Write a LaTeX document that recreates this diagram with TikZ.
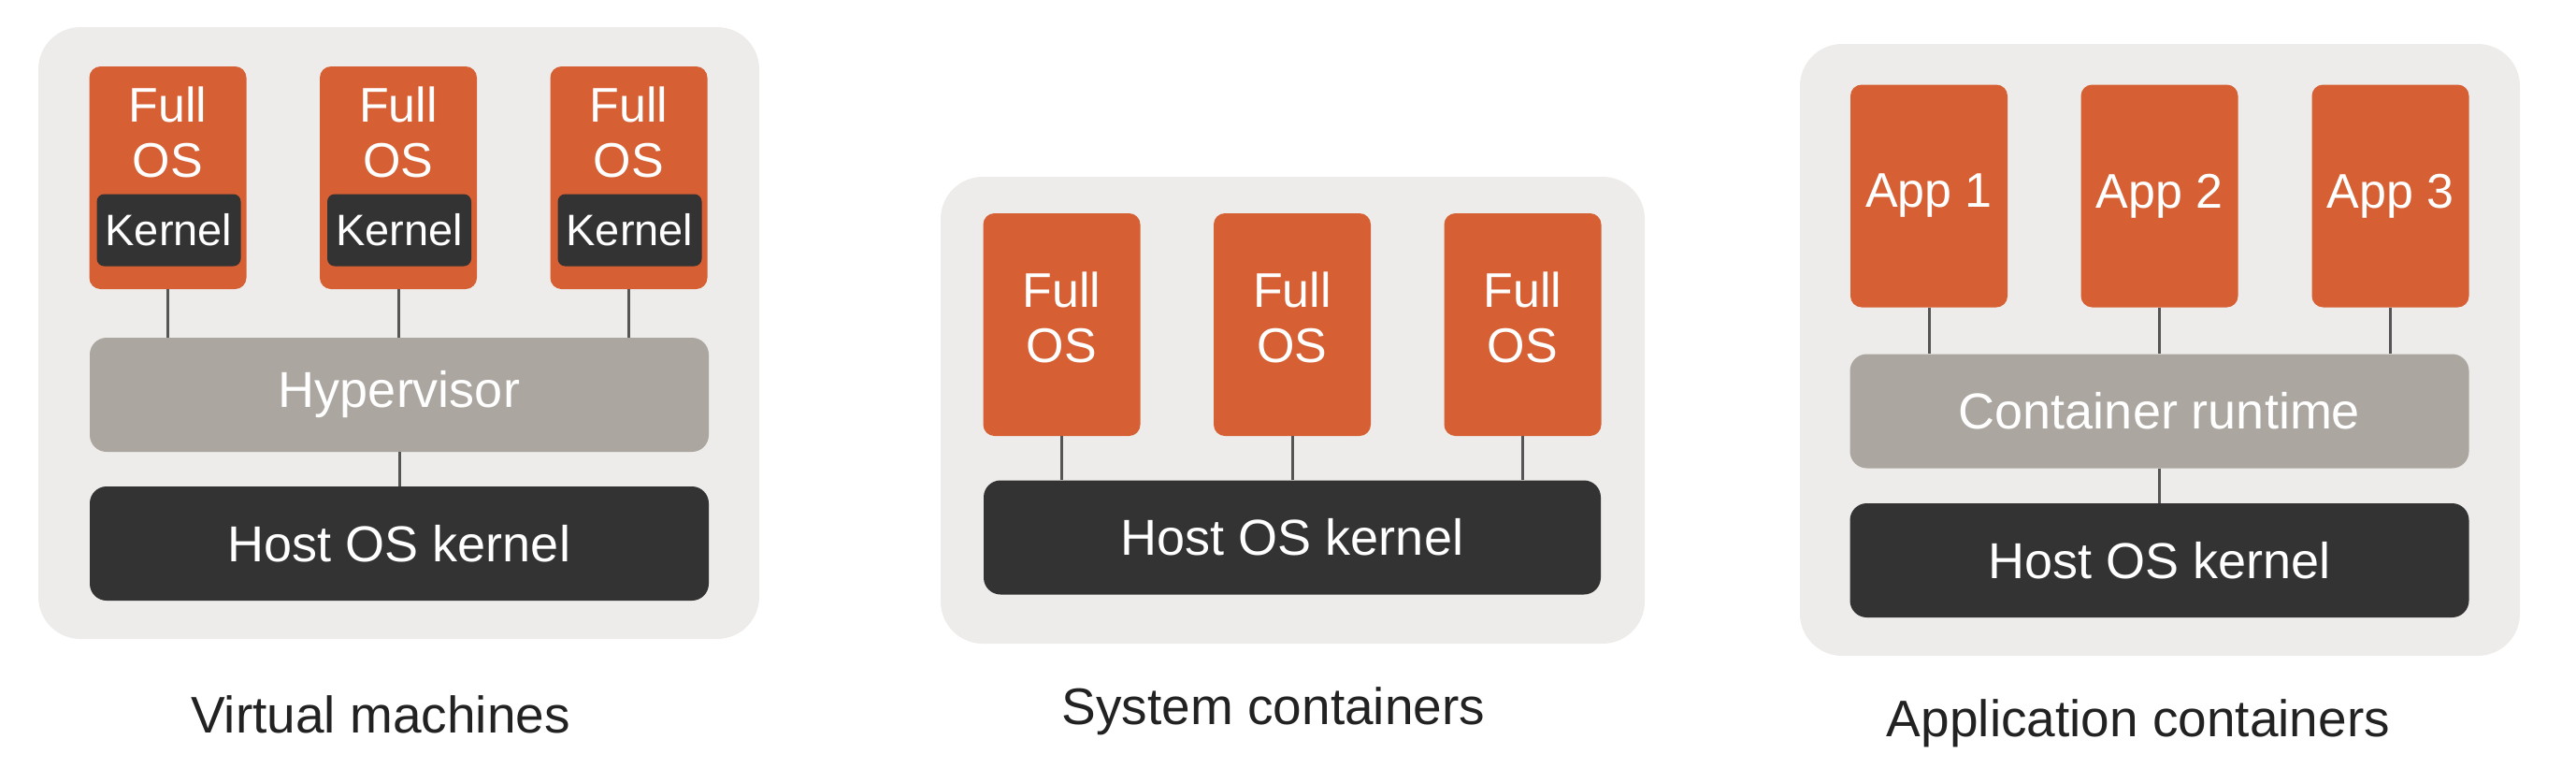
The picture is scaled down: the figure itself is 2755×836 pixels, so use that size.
\documentclass[tikz,border=0pt]{standalone}
\usepackage{fontspec}
\setmainfont{Liberation Sans}
\definecolor{bgc}{HTML}{EDECEA}
\definecolor{orc}{HTML}{D65F33}
\definecolor{grc}{HTML}{ABA7A0}
\definecolor{dkc}{HTML}{333333}
\definecolor{lnc}{HTML}{555555}
\definecolor{capc}{HTML}{222222}
\tikzset{
  panel/.style={fill=bgc, rounded corners=45pt},
  orbox/.style={fill=orc, rounded corners=12pt, inner sep=0pt, minimum width=168pt, minimum height=238pt},
  kbox/.style={fill=dkc, rounded corners=8pt, inner sep=0pt, minimum width=154pt, minimum height=77pt, text=white, font=\fontsize{47}{52}\selectfont},
  wtext/.style={text=white, align=center, inner sep=0pt, font=\fontsize{52}{59}\selectfont},
  layer/.style={rounded corners=18pt, inner sep=0pt, minimum width=662pt, minimum height=122pt, text=white, font=\fontsize{54}{60}\selectfont},
  graylayer/.style={layer, fill=grc},
  darklayer/.style={layer, fill=dkc},
  conn/.style={draw=lnc, line width=3pt},
  caption/.style={text=capc, inner sep=0pt, font=\fontsize{55}{60}\selectfont}
}
\begin{document}
\begin{tikzpicture}[x=1pt, y=-1pt]
\useasboundingbox (0,0) rectangle (2755,836);
% ---------- Virtual machines ----------
\fill[panel] (41,29) rectangle (812,683);
\node[orbox] (vm1) at (179.5,190) {};
\node[orbox] (vm2) at (426,190) {};
\node[orbox] (vm3) at (672.5,190) {};
\node[wtext] (vm1t) at (179.5,141) {Full\\OS};
\node[wtext] (vm2t) at (426,141) {Full\\OS};
\node[wtext] (vm3t) at (672.5,141) {Full\\OS};
\node[kbox] (k1) at (180.5,246) {Kernel};
\node[kbox] (k2) at (427,246) {Kernel};
\node[kbox] (k3) at (673.5,246) {Kernel};
\node[graylayer] (hyp) at (427,422) {Hypervisor};
\node[darklayer] (host1) at (427,581) {Host OS kernel};
\draw[conn] (vm1.south) -- (vm1.south |- hyp.north);
\draw[conn] (vm2.south) -- (vm2.south |- hyp.north);
\draw[conn] (vm3.south) -- (vm3.south |- hyp.north);
\draw[conn] (hyp.south) -- (host1.north);
\node[caption] (cap1) at (407,764) {Virtual machines};
% ---------- System containers ----------
\fill[panel] (1006,189) rectangle (1759,688);
\node[orbox] (sc1) at (1135.5,347) {};
\node[orbox] (sc2) at (1382,347) {};
\node[orbox] (sc3) at (1628.5,347) {};
\node[wtext] (sc1t) at (1135.5,339) {Full\\OS};
\node[wtext] (sc2t) at (1382,339) {Full\\OS};
\node[wtext] (sc3t) at (1628.5,339) {Full\\OS};
\node[darklayer, minimum width=660pt] (host2) at (1382,574.5) {Host OS kernel};
\draw[conn] (sc1.south) -- (sc1.south |- host2.north);
\draw[conn] (sc2.south) -- (sc2.south |- host2.north);
\draw[conn] (sc3.south) -- (sc3.south |- host2.north);
\node[caption] (cap2) at (1362,760) {System containers};
% ---------- Application containers ----------
\fill[panel] (1925,47) rectangle (2695,701);
\node[orbox] (ac1) at (2063,209.5) {};
\node[orbox] (ac2) at (2309.5,209.5) {};
\node[orbox] (ac3) at (2556.5,209.5) {};
\node[wtext] (ac1t) at (2063,209.5) {App 1};
\node[wtext] (ac2t) at (2309.5,209.5) {App 2};
\node[wtext] (ac3t) at (2556.5,209.5) {App 3};
\node[graylayer] (rt) at (2309.5,439.5) {Container runtime};
\node[darklayer] (host3) at (2309.5,599) {Host OS kernel};
\draw[conn] (ac1.south) -- (ac1.south |- rt.north);
\draw[conn] (ac2.south) -- (ac2.south |- rt.north);
\draw[conn] (ac3.south) -- (ac3.south |- rt.north);
\draw[conn] (rt.south) -- (host3.north);
\node[caption] (cap3) at (2287,773) {Application containers};
\end{tikzpicture}
\end{document}
